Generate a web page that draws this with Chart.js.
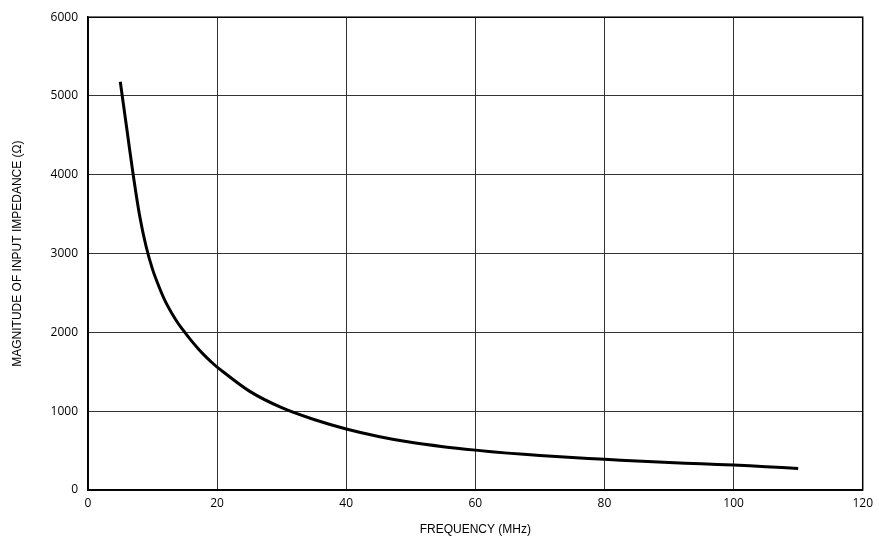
<!DOCTYPE html>
<html>
<head>
<meta charset="utf-8">
<style>
  html, body { margin: 0; padding: 0; background: #fff; }
  #wrap { width: 879px; height: 541px; }
</style>
<script src="https://cdn.jsdelivr.net/npm/chart.js@4"></script>
</head>
<body>
<div id="wrap"><canvas id="impedance"></canvas></div>
<script>
// frequency (MHz) and |Zin| (ohms)
const frequency = [5, 6, 7, 8, 9, 10, 11, 12, 13, 14, 15, 16, 17, 18, 19, 20, 25, 30, 35, 40, 45, 50, 55, 60, 65, 70, 75, 80, 85, 90, 95, 100, 105, 110];
const impedance = [5180, 4590, 4000, 3480, 3090, 2800, 2580, 2390, 2240, 2110, 2000, 1895, 1800, 1712, 1633, 1560, 1255, 1045, 895, 775, 680, 605, 550, 506, 468, 438, 412, 389, 368, 349, 332, 316, 296, 272];

const xTicks = [0, 20, 40, 60, 80, 100, 120];
const yTicks = [0, 1000, 2000, 3000, 4000, 5000, 6000];

const points = frequency.map((f, i) => ({ x: f, y: impedance[i] }));

const tickFont = { family: "'Open Sans', 'Liberation Sans', sans-serif", size: 12 };
const titleFont = { family: "'Liberation Sans', Arial, sans-serif", size: 12 };

const context = document.getElementById("impedance").getContext("2d");
const chart = new Chart(context, {
    type: "line",
    data: {
        datasets: [{
            data: points,
            borderColor: "#000",
            borderWidth: 3,
            pointRadius: 0,
            fill: false,
            tension: 0.3
        }]
    },
    options: {
        responsive: true,
        maintainAspectRatio: false,
        animation: false,
        layout: { padding: { top: 16, right: 15, left: 6, bottom: 0 } },
        plugins: { legend: { display: false }, tooltip: { enabled: false } },
        scales: {
            x: {
                type: "linear",
                min: 0,
                max: 120,
                afterBuildTicks: s => { s.ticks = xTicks.map(v => ({ value: v })); },
                afterFit: s => { s.height = 51; },
                grid: { color: "#333", lineWidth: 1, drawTicks: false },
                border: { color: "#000", width: 1.5 },
                ticks: { color: "#000", font: tickFont, padding: 6, maxRotation: 0, callback: v => String(v) },
                title: { display: true, text: "FREQUENCY (MHz)", color: "#000", font: titleFont, padding: { top: 8 } }
            },
            y: {
                min: 0,
                max: 6000,
                afterBuildTicks: s => { s.ticks = yTicks.map(v => ({ value: v })); },
                afterFit: s => { s.width = 82; },
                grid: { color: "#333", lineWidth: 1, drawTicks: false },
                border: { color: "#000", width: 1.5 },
                ticks: { color: "#000", font: tickFont, padding: 10, callback: v => String(v) },
                title: { display: true, text: "MAGNITUDE OF INPUT IMPEDANCE (Ω)", color: "#000", font: titleFont, padding: { bottom: 0 } }
            }
        }
    },
    plugins: [{
        // close the frame on the top and right edges
        id: "frame",
        afterDraw(c) {
            const a = c.chartArea, g = c.ctx;
            g.save();
            g.strokeStyle = "#000";
            g.lineWidth = 1.5;
            g.strokeRect(a.left, a.top, a.right - a.left, a.bottom - a.top);
            g.restore();
        }
    }]
});
</script>
</body>
</html>
